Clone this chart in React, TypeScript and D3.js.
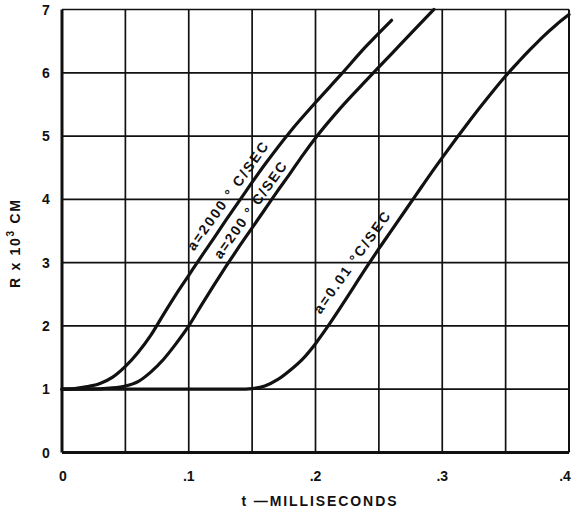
import React from "react";
import * as d3 from "d3";

// values (t in ms, R in 10^-3 cm)
const tA2000 = [0, 0.01, 0.02, 0.03, 0.04, 0.05, 0.06, 0.07, 0.08, 0.09, 0.1, 0.11, 0.12, 0.13, 0.14, 0.16, 0.18, 0.2, 0.22, 0.24, 0.26];
const rA2000 = [1, 1.01, 1.04, 1.09, 1.19, 1.36, 1.58, 1.85, 2.18, 2.5, 2.8, 3.1, 3.39, 3.69, 3.98, 4.55, 5.07, 5.53, 5.97, 6.42, 6.83];

const tA200 = [0, 0.02, 0.04, 0.05, 0.06, 0.07, 0.08, 0.09, 0.1, 0.11, 0.12, 0.13, 0.14, 0.15, 0.16, 0.17, 0.18, 0.19, 0.2, 0.22, 0.24, 0.26, 0.28, 0.2934];
const rA200 = [1, 1.0, 1.02, 1.05, 1.12, 1.27, 1.47, 1.72, 2.0, 2.33, 2.65, 2.96, 3.26, 3.55, 3.84, 4.13, 4.41, 4.7, 4.97, 5.45, 5.88, 6.3, 6.72, 7.0];

const tA001 = [0, 0.05, 0.1, 0.14, 0.15, 0.16, 0.17, 0.18, 0.19, 0.2, 0.21, 0.22, 0.23, 0.24, 0.25, 0.26, 0.27, 0.28, 0.29, 0.3, 0.32, 0.33, 0.34, 0.35, 0.36, 0.37, 0.38, 0.39, 0.4];
const rA001 = [1, 1, 1, 1.0, 1.01, 1.05, 1.15, 1.3, 1.48, 1.72, 2.0, 2.3, 2.61, 2.92, 3.22, 3.51, 3.8, 4.09, 4.38, 4.66, 5.2, 5.46, 5.71, 5.95, 6.17, 6.38, 6.58, 6.76, 6.92];

const seriesLabels = ["a=2000 \u00b0 C/SEC", "a=200 \u00b0 C/SEC", "a=0.01 \u00b0C/SEC"];
// where each label sits (data coords) and its drawn length
const labelT = [0.1305, 0.1483, 0.2285];
const labelR = [4.05, 3.83, 3.0];
const labelLen = [129, 115, 121];

const xGrid = [0, 0.05, 0.1, 0.15, 0.2, 0.25, 0.3, 0.35, 0.4];
const yGrid = [0, 1, 2, 3, 4, 5, 6, 7];
const xTicks = [0, 0.1, 0.2, 0.3, 0.4];
const xTickLabels = ["0", ".1", ".2", ".3", ".4"];
const yTickLabels = ["0", "1", "2", "3", "4", "5", "6", "7"];

const W = 571;
const H = 511;
const font = "'Liberation Sans', Arial, sans-serif";
const ink = "#111";

export default function App() {
  const x = d3.scaleLinear().domain([0, 0.4]).range([62, 569]);
  const y = d3.scaleLinear().domain([0, 7]).range([452.5, 9.5]);

  const line = d3
    .line<[number, number]>()
    .x((d) => x(d[0]))
    .y((d) => y(d[1]))
    .curve(d3.curveMonotoneX);

  const series = [
    d3.zip(tA2000, rA2000) as [number, number][],
    d3.zip(tA200, rA200) as [number, number][],
    d3.zip(tA001, rA001) as [number, number][],
  ];

  return (
    <svg
      width={W}
      height={H}
      style={{ position: "absolute", left: 0, top: 0, background: "#fff" }}
    >
      {/* grid */}
      {xGrid.map((v, i) => (
        <line
          key={"xg" + i}
          x1={x(v)}
          x2={x(v)}
          y1={y(7)}
          y2={y(0)}
          stroke={ink}
          strokeWidth={i === 0 ? 3 : i === xGrid.length - 1 ? 2 : 1.7}
        />
      ))}
      {yGrid.map((v, i) => (
        <line
          key={"yg" + i}
          x1={x(0)}
          x2={x(0.4)}
          y1={y(v)}
          y2={y(v)}
          stroke={ink}
          strokeWidth={i === 0 ? 3 : 1.7}
        />
      ))}

      {/* curves */}
      {series.map((s, i) => (
        <path
          key={"s" + i}
          d={line(s) || ""}
          fill="none"
          stroke={ink}
          strokeWidth={3.2}
          strokeLinecap="round"
        />
      ))}

      {/* curve labels */}
      {seriesLabels.map((lab, i) => (
        <text
          key={"lab" + i}
          transform={`translate(${x(labelT[i])},${y(labelR[i])}) rotate(-54.5)`}
          textAnchor="middle"
          dominantBaseline="central"
          fontFamily={font}
          fontWeight="bold"
          fontSize={14}
          fill={ink}
          textLength={labelLen[i]}
          lengthAdjust="spacing"
        >
          {lab}
        </text>
      ))}

      {/* y tick labels */}
      {yGrid.map((v, i) => (
        <text
          key={"yt" + i}
          x={46}
          y={y(v)}
          textAnchor="middle"
          dominantBaseline="central"
          fontFamily={font}
          fontWeight="bold"
          fontSize={14}
          fill={ink}
        >
          {yTickLabels[i]}
        </text>
      ))}

      {/* x tick labels */}
      {xTicks.map((v, i) => (
        <text
          key={"xt" + i}
          x={x(v) + (i === 0 ? 1 : i === xTicks.length - 1 ? -4 : 0)}
          y={476}
          textAnchor="middle"
          dominantBaseline="central"
          fontFamily={font}
          fontWeight="bold"
          fontSize={14}
          fill={ink}
        >
          {xTickLabels[i]}
        </text>
      ))}

      {/* axis titles */}
      <text
        x={319}
        y={501}
        textAnchor="middle"
        dominantBaseline="central"
        fontFamily={font}
        fontWeight="bold"
        fontSize={14}
        fill={ink}
        textLength={155}
        lengthAdjust="spacing"
      >
        t —MILLISECONDS
      </text>
      <text
        transform="translate(15,244) rotate(-90)"
        textAnchor="middle"
        dominantBaseline="central"
        fontFamily={font}
        fontWeight="bold"
        fontSize={14}
        fill={ink}
        textLength={88}
        lengthAdjust="spacing"
      >
        R x 10
        <tspan fontSize={10} dy={-5}>
          3
        </tspan>
        <tspan dy={5}> CM</tspan>
      </text>
    </svg>
  );
}
